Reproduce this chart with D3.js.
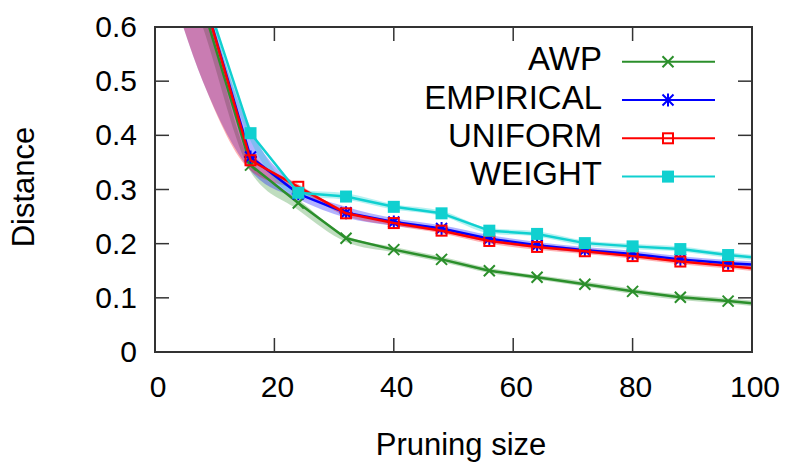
<!DOCTYPE html>
<html><head><meta charset="utf-8">
<script src="https://cdn.jsdelivr.net/npm/d3@7"></script>
<style>
html,body{margin:0;padding:0;background:#fff;}
svg{display:block;font-family:"Liberation Sans",Arial,sans-serif;}
</style></head>
<body><svg id="c" width="789" height="468"></svg>
<script>
// ---- data ----
const sizes     = [0, 8, 16, 24, 32, 40, 48, 56, 64, 72, 80, 88, 96, 104];
const awp       = [0.95, 0.64, 0.345, 0.275, 0.210, 0.189, 0.171, 0.150, 0.138, 0.125, 0.112, 0.101, 0.094, 0.086];
const empirical = [0.95, 0.66, 0.360, 0.292, 0.257, 0.240, 0.228, 0.209, 0.197, 0.188, 0.181, 0.171, 0.164, 0.159];
const uniform   = [0.95, 0.66, 0.354, 0.305, 0.256, 0.238, 0.224, 0.205, 0.194, 0.186, 0.177, 0.167, 0.159, 0.150];
const weight    = [0.95, 0.672, 0.404, 0.294, 0.287, 0.268, 0.256, 0.224, 0.218, 0.201, 0.195, 0.190, 0.179, 0.171];
// shaded spread (lower / upper bounds)
const awpLo = [0.85, 0.60, 0.333, 0.262, 0.203, 0.184, 0.166, 0.146, 0.134, 0.121, 0.107, 0.096, 0.089, 0.081];
const awpHi = [1.00, 0.66, 0.352, 0.282, 0.215, 0.194, 0.176, 0.155, 0.142, 0.130, 0.117, 0.106, 0.099, 0.091];
const empLo = [0.77, 0.50, 0.335, 0.282, 0.248, 0.233, 0.222, 0.203, 0.192, 0.183, 0.176, 0.166, 0.159, 0.154];
const empHi = [1.00, 0.672, 0.410, 0.305, 0.268, 0.247, 0.234, 0.216, 0.203, 0.194, 0.187, 0.177, 0.170, 0.165];
const uniLo = [0.77, 0.50, 0.335, 0.298, 0.251, 0.233, 0.219, 0.200, 0.189, 0.181, 0.172, 0.162, 0.154, 0.145];
const uniHi = [1.00, 0.67, 0.370, 0.310, 0.261, 0.243, 0.229, 0.210, 0.199, 0.191, 0.182, 0.172, 0.164, 0.155];
const wgtLo = [0.90, 0.66, 0.390, 0.288, 0.281, 0.263, 0.251, 0.219, 0.213, 0.196, 0.190, 0.185, 0.174, 0.166];
const wgtHi = [1.00, 0.675, 0.415, 0.300, 0.293, 0.273, 0.261, 0.229, 0.223, 0.206, 0.200, 0.195, 0.184, 0.176];
const seriesNames = ["AWP", "EMPIRICAL", "UNIFORM", "WEIGHT"];
const xTicks = [0, 20, 40, 60, 80, 100];
const yTicks = [0, 0.1, 0.2, 0.3, 0.4, 0.5, 0.6];
const xTitle = "Pruning size";
const yTitle = "Distance";

// ---- styling ----
const colors = ["#2b8f2b", "#0000ff", "#ff0000", "#10d0d0"];
const symbols = ["cross", "star", "openSquare", "fillSquare"];
const series = [
  {name: seriesNames[0], vals: awp, lo: awpLo, hi: awpHi},
  {name: seriesNames[1], vals: empirical, lo: empLo, hi: empHi},
  {name: seriesNames[2], vals: uniform, lo: uniLo, hi: uniHi},
  {name: seriesNames[3], vals: weight, lo: wgtLo, hi: wgtHi}
];

const L = 155, R = 752, T = 27, B = 352;
const x = d3.scaleLinear().domain([0, 100]).range([L, R]);
const y = d3.scaleLinear().domain([0, 0.6]).range([B, T]);
const svg = d3.select("#c");
const fs = 30;

svg.append("defs").append("clipPath").attr("id", "clip")
  .append("rect").attr("x", L).attr("y", T).attr("width", R - L).attr("height", B - T);

const plot = svg.append("g").attr("clip-path", "url(#clip)");

// bands
series.forEach((s, i) => {
  const area = d3.area()
    .curve(d3.curveMonotoneX)
    .x((d, j) => x(sizes[j]))
    .y0((d, j) => y(s.lo[j]))
    .y1((d, j) => y(s.hi[j]));
  plot.append("path").attr("d", area(s.vals))
    .attr("fill", colors[i]).attr("fill-opacity", 0.3).attr("stroke", "none");
});

function drawMarker(g, type, cx, cy, col) {
  const h = 5.5;
  if (type === "cross") {
    g.append("path").attr("d", `M${cx-h},${cy-h}L${cx+h},${cy+h}M${cx-h},${cy+h}L${cx+h},${cy-h}`)
      .attr("stroke", col).attr("stroke-width", 2).attr("fill", "none");
  } else if (type === "star") {
    g.append("path").attr("d", `M${cx-h},${cy-h}L${cx+h},${cy+h}M${cx-h},${cy+h}L${cx+h},${cy-h}M${cx},${cy-h-1}L${cx},${cy+h+1}M${cx-h-1},${cy}L${cx+h+1},${cy}`)
      .attr("stroke", col).attr("stroke-width", 2).attr("fill", "none");
  } else if (type === "openSquare") {
    g.append("rect").attr("x", cx - 5).attr("y", cy - 5).attr("width", 10).attr("height", 10)
      .attr("fill", "none").attr("stroke", col).attr("stroke-width", 2);
  } else {
    g.append("rect").attr("x", cx - 6).attr("y", cy - 6).attr("width", 12).attr("height", 12)
      .attr("fill", col).attr("stroke", "none");
  }
}

// lines + markers
series.forEach((s, i) => {
  const line = d3.line().x((d, j) => x(sizes[j])).y(d => y(d));
  plot.append("path").attr("d", line(s.vals))
    .attr("fill", "none").attr("stroke", colors[i]).attr("stroke-width", 2.5)
    .attr("stroke-linejoin", "round");
  const mg = plot.append("g");
  s.vals.forEach((v, j) => {
    if (sizes[j] <= 100 && v <= 0.6) drawMarker(mg, symbols[i], x(sizes[j]), y(v), colors[i]);
  });
});

// frame and ticks
const axisCol = "#333";
const tl = 14;
const ax = svg.append("g");
xTicks.forEach(t => {
  if (t > 0 && t < 100) {
    ax.append("line").attr("x1", x(t)).attr("x2", x(t)).attr("y1", B).attr("y2", B - tl).attr("stroke", axisCol).attr("stroke-width", 1.5);
    ax.append("line").attr("x1", x(t)).attr("x2", x(t)).attr("y1", T).attr("y2", T + tl).attr("stroke", axisCol).attr("stroke-width", 1.5);
  }
  ax.append("text").attr("x", x(t) + 3).attr("y", 397).attr("text-anchor", "middle")
    .attr("font-size", fs).attr("fill", "#000").text(d3.format("d")(t));
});
yTicks.forEach(t => {
  if (t > 0 && t < 0.6) {
    ax.append("line").attr("x1", L).attr("x2", L + tl).attr("y1", y(t)).attr("y2", y(t)).attr("stroke", axisCol).attr("stroke-width", 1.5);
    ax.append("line").attr("x1", R).attr("x2", R - tl).attr("y1", y(t)).attr("y2", y(t)).attr("stroke", axisCol).attr("stroke-width", 1.5);
  }
  ax.append("text").attr("x", 137).attr("y", y(t) + 10).attr("text-anchor", "end")
    .attr("font-size", fs).attr("fill", "#000").text(t === 0 ? "0" : d3.format(".1f")(t));
});
ax.append("rect").attr("x", L).attr("y", T).attr("width", R - L).attr("height", B - T)
  .attr("fill", "none").attr("stroke", axisCol).attr("stroke-width", 2);

// axis titles
svg.append("text").attr("x", 461).attr("y", 455).attr("text-anchor", "middle")
  .attr("font-size", 31).attr("fill", "#000").text(xTitle);
svg.append("text").attr("transform", "translate(34,187) rotate(-90)").attr("text-anchor", "middle")
  .attr("font-size", 31).attr("fill", "#000").text(yTitle);

// legend
const lg = svg.append("g");
series.forEach((s, i) => {
  const ry = 61.7 + i * 38.3;
  lg.append("text").attr("x", 602).attr("y", ry + 8.5).attr("text-anchor", "end")
    .attr("font-size", 33).attr("fill", "#000").text(s.name);
  lg.append("line").attr("x1", 622).attr("x2", 715).attr("y1", ry).attr("y2", ry)
    .attr("stroke", colors[i]).attr("stroke-width", 2);
  drawMarker(lg, symbols[i], 668, ry, colors[i]);
});
</script>
</body></html>
